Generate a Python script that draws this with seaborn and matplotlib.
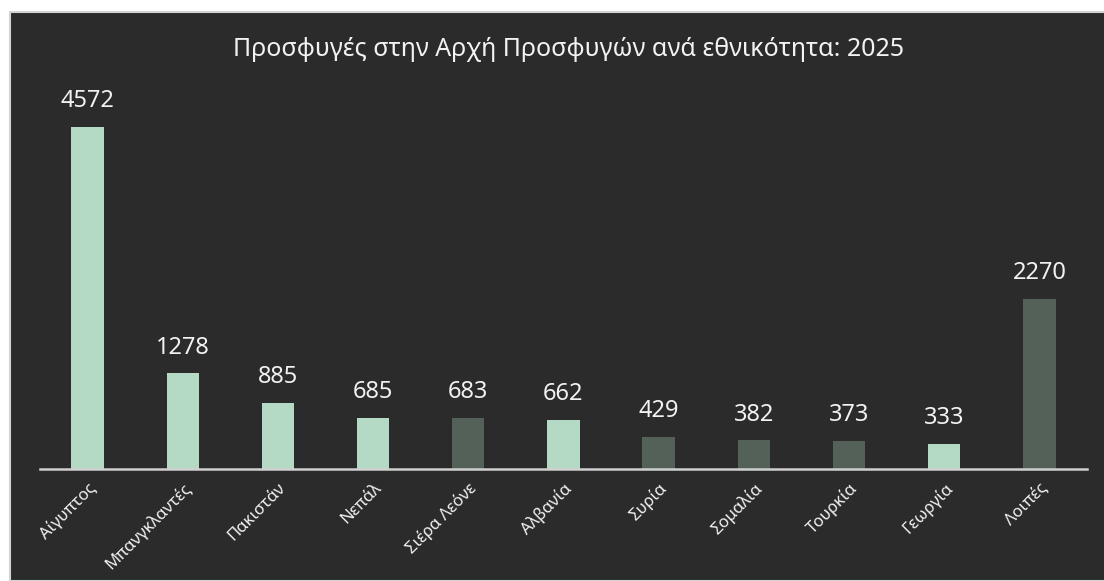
import matplotlib.pyplot as plt
import pandas as pd
import seaborn as sns
from matplotlib.patches import Rectangle

countries = [
    "Αίγυπτος",
    "Μπανγκλαντές",
    "Πακιστάν",
    "Νεπάλ",
    "Σιέρα Λεόνε",
    "Αλβανία",
    "Συρία",
    "Σομαλία",
    "Τουρκία",
    "Γεωργία",
    "Λοιπές",
]
refugees = [4572, 1278, 885, 685, 683, 662, 429, 382, 373, 333, 2270]
group = ["a", "a", "a", "a", "b", "a", "b", "b", "b", "a", "b"]

TITLE = "Προσφυγές στην Αρχή Προσφυγών ανά εθνικότητα: 2025"
BG = "#2b2b2b"
LIGHT = "#b4d9c4"
DARK = "#536158"
TEXT = "#f2f2f2"


def main() -> None:
    sns.set_theme(style="white")
    plt.rcParams["font.family"] = ["Noto Sans", "DejaVu Sans"]

    df = pd.DataFrame({"country": countries, "refugees": refugees, "group": group})

    fig = plt.figure(figsize=(11.04, 5.81), dpi=100, facecolor="white")
    fig.patches.append(
        Rectangle(
            (10 / 1104, 0), 1.0, 1 - 12 / 581,
            transform=fig.transFigure, facecolor=BG, edgecolor="#d4d4d4",
            linewidth=1.5, zorder=-10,
        )
    )

    ax = fig.add_axes([0.0362, 0.1928, 0.9484, 0.6368])
    ax.set_zorder(5)
    ax.set_facecolor("none")

    sns.barplot(
        data=df, x="country", y="refugees", hue="group",
        palette={"a": LIGHT, "b": DARK}, width=0.34, legend=False,
        dodge=False, saturation=1, linewidth=0, ax=ax,
    )

    for i, v in enumerate(df["refugees"]):
        ax.annotate(
            str(v), (i, v), xytext=(0, 10), textcoords="offset points",
            ha="center", va="bottom", fontsize=17, color=TEXT,
        )

    ax.set_xlim(-0.5, len(countries) - 0.5)
    ax.set_ylim(0, 4950)
    ax.set_xlabel("")
    ax.set_ylabel("")
    ax.set_yticks([])
    for side in ["top", "right", "left"]:
        ax.spines[side].set_visible(False)
    ax.spines["bottom"].set_color("#d0d0d0")
    ax.spines["bottom"].set_linewidth(1.8)

    ax.tick_params(axis="x", length=0, pad=8)
    for lbl in ax.get_xticklabels():
        lbl.set_rotation(45)
        lbl.set_ha("right")
        lbl.set_rotation_mode("anchor")
        lbl.set_color(TEXT)
        lbl.set_fontsize(12)

    title = fig.text(0.515, 1 - 50 / 581, TITLE, ha="center", va="center",
                     fontsize=18, color=TEXT)
    title.set_zorder(6)

    fig.savefig("out.png", dpi=100, facecolor=fig.get_facecolor())
    plt.close(fig)


if __name__ == "__main__":
    main()
